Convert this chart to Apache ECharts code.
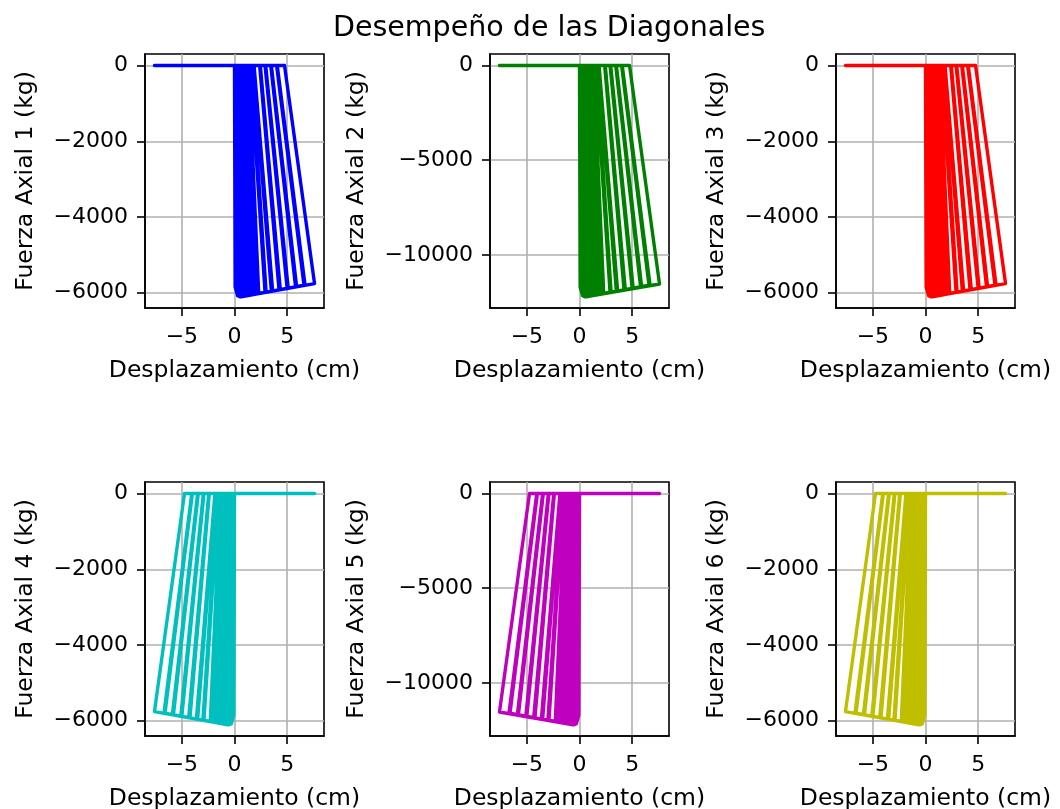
<!DOCTYPE html>
<html>
<head>
<meta charset="utf-8">
<script src="https://cdn.jsdelivr.net/npm/echarts@6.0.0/dist/echarts.min.js"></script>
<style>
html,body{margin:0;padding:0;background:#fff;}
#chart{width:1060px;height:809px;}
</style>
</head>
<body>
<div id="chart"></div>
<script>
// ---------- texts ----------
const titleText = 'Desempeño de las Diagonales';
const xAxisName = 'Desplazamiento (cm)';
const yAxisNames = ['Fuerza Axial 1 (kg)', 'Fuerza Axial 2 (kg)', 'Fuerza Axial 3 (kg)',
                    'Fuerza Axial 4 (kg)', 'Fuerza Axial 5 (kg)', 'Fuerza Axial 6 (kg)'];
const seriesColors = ['#0000ff', '#008000', '#ff0000', '#00bfbf', '#bf00bf', '#bfbf00'];

// ---------- axes ----------
const xTicks = [-5, 0, 5];
const xRange = [-8.5, 8.5];
const yTicksSmall = [0, -2000, -4000, -6000];
const yRangeSmall = [-6405, 305];
const yTicksLarge = [0, -5000, -10000];
const yRangeLarge = [-12810, 610];

// which side the diagonal works on (+1: loops at positive displacement, -1: mirrored)
const diagonalSide = [1, 1, 1, -1, -1, -1];
// force group of each diagonal: 0 = ~6 t diagonals, 1 = ~12 t diagonals
const diagonalGroup = [0, 1, 0, 0, 1, 0];

// ---------- hysteresis cycles ----------
// peak displacement of each cycle (cm)
const cyclePeakDisp = [0.3, 0.4, 0.5, 0.6, 0.7, 0.8, 0.9, 1.0, 1.1, 1.2, 1.3, 1.4, 1.5, 1.6, 1.7, 1.8, 1.9, 2.0,
                       2.17, 2.3, 2.9, 3.0, 3.5, 3.62, 4.23, 4.35, 5.0, 5.1, 5.8, 5.9, 6.6, 6.7, 7.6];
// displacement where force returns to zero on unloading (cm)
const cycleZeroDisp = [0.0, 0.0, 0.0, 0.03, 0.08, 0.14, 0.2, 0.27, 0.34, 0.41, 0.48, 0.56, 0.64, 0.72, 0.8, 0.9, 1.0, 1.1,
                       1.25, 1.35, 1.5, 1.6, 1.79, 1.86, 2.39, 2.45, 2.9, 2.96, 3.44, 3.5, 4.0, 4.06, 4.75];
// force at the peak displacement (kg), 6 t diagonals
const cyclePeakForceSmall = [-6080, -6095, -6105, -6110, -6105, -6100, -6095, -6090, -6085, -6080, -6075, -6070, -6065, -6060, -6055, -6050, -6045, -6040,
                             -6025, -6020, -5990, -5985, -5960, -5955, -5925, -5920, -5885, -5880, -5845, -5840, -5805, -5800, -5760];
// force at the peak displacement (kg), 12 t diagonals
const cyclePeakForceLarge = [-12160, -12190, -12210, -12220, -12210, -12200, -12190, -12180, -12170, -12160, -12150, -12140, -12130, -12120, -12110, -12100, -12090, -12080,
                             -12050, -12040, -11980, -11970, -11920, -11910, -11850, -11840, -11770, -11760, -11690, -11680, -11610, -11600, -11540];
// loading branch (shared by every cycle)
const loadPathDisp = [0.0, 0.06, 0.3, 0.6];
const loadPathForceSmall = [0, -5850, -6080, -6110];
const loadPathForceLarge = [0, -11700, -12160, -12220];

function buildPath(d) {
  const s = diagonalSide[d];
  const g = diagonalGroup[d];
  const peakF = g === 0 ? cyclePeakForceSmall : cyclePeakForceLarge;
  const loadF = g === 0 ? loadPathForceSmall : loadPathForceLarge;
  const pts = [];
  for (let i = 0; i < cyclePeakDisp.length; i++) {
    for (let k = 0; k < loadPathDisp.length; k++) {
      if (k > 0 && loadPathDisp[k] > cyclePeakDisp[i]) break;
      pts.push([s * loadPathDisp[k], loadF[k]]);
    }
    pts.push([s * cyclePeakDisp[i], peakF[i]]);
    pts.push([s * cycleZeroDisp[i], 0]);
    pts.push([-s * cyclePeakDisp[i], 0]);
  }
  pts.push([0, 0]);
  return pts;
}

function fmt(v) {
  return (v < 0 ? '\u2212' : '') + Math.abs(v);
}

const gridBoxes = [
  { left: 145, top: 54 }, { left: 490, top: 54 }, { left: 836, top: 54 },
  { left: 145, top: 482 }, { left: 490, top: 482 }, { left: 836, top: 482 }
];
const gridW = 179, gridH = 254;
const yNameGaps = [107, 121, 107, 107, 121, 107];

const FONT = 'DejaVu Sans';
const grids = [], xAxes = [], yAxes = [], series = [];
for (let d = 0; d < 6; d++) {
  const g = diagonalGroup[d];
  grids.push({
    left: gridBoxes[d].left, top: gridBoxes[d].top, width: gridW, height: gridH,
    show: true, borderColor: '#000', borderWidth: 1.6, backgroundColor: 'transparent',
    containLabel: false, outerBoundsMode: 'none'
  });
  xAxes.push({
    type: 'value', gridIndex: d, min: xRange[0], max: xRange[1],
    name: xAxisName, nameLocation: 'middle', nameGap: 51,
    nameTextStyle: { fontFamily: FONT, fontSize: 23.5, color: '#000' },
    axisLine: { show: true, onZero: false, lineStyle: { color: '#000', width: 1.6 } },
    axisTick: { show: true, length: 8, customValues: xTicks, lineStyle: { color: '#000', width: 1.6 } },
    axisLabel: { show: true, customValues: xTicks, margin: 18, formatter: fmt,
                 fontFamily: FONT, fontSize: 22, color: '#000' },
    splitLine: { show: true, lineStyle: { color: '#b0b0b0', width: 1.6 } }
  });
  yAxes.push({
    type: 'value', gridIndex: d,
    min: g === 0 ? yRangeSmall[0] : yRangeLarge[0],
    max: g === 0 ? yRangeSmall[1] : yRangeLarge[1],
    name: yAxisNames[d], nameLocation: 'middle', nameGap: yNameGaps[d],
    nameTextStyle: { fontFamily: FONT, fontSize: 23.5, color: '#000' },
    axisLine: { show: true, onZero: false, lineStyle: { color: '#000', width: 1.6 } },
    axisTick: { show: true, length: 8, customValues: g === 0 ? yTicksSmall : yTicksLarge,
                lineStyle: { color: '#000', width: 1.6 } },
    axisLabel: { show: true, customValues: g === 0 ? yTicksSmall : yTicksLarge, margin: 17,
                 formatter: fmt, fontFamily: FONT, fontSize: 22, color: '#000' },
    splitLine: { show: true, lineStyle: { color: '#b0b0b0', width: 1.6 } }
  });
  series.push({
    type: 'line', xAxisIndex: d, yAxisIndex: d,
    data: buildPath(d), showSymbol: false, symbol: 'none',
    sampling: null, smooth: false, clip: true,
    lineStyle: { color: seriesColors[d], width: 3.4, join: 'round', cap: 'round' },
    itemStyle: { color: seriesColors[d] },
    z: 3
  });
}

const chart = echarts.init(document.getElementById('chart'), null, { renderer: 'canvas' });
chart.setOption({
  animation: false,
  backgroundColor: '#fff',
  title: {
    text: titleText, left: 328, top: 9,
    textStyle: { fontFamily: FONT, fontSize: 28.5, fontWeight: 'normal', color: '#000' }
  },
  grid: grids, xAxis: xAxes, yAxis: yAxes, series: series
});
</script>
</body>
</html>
